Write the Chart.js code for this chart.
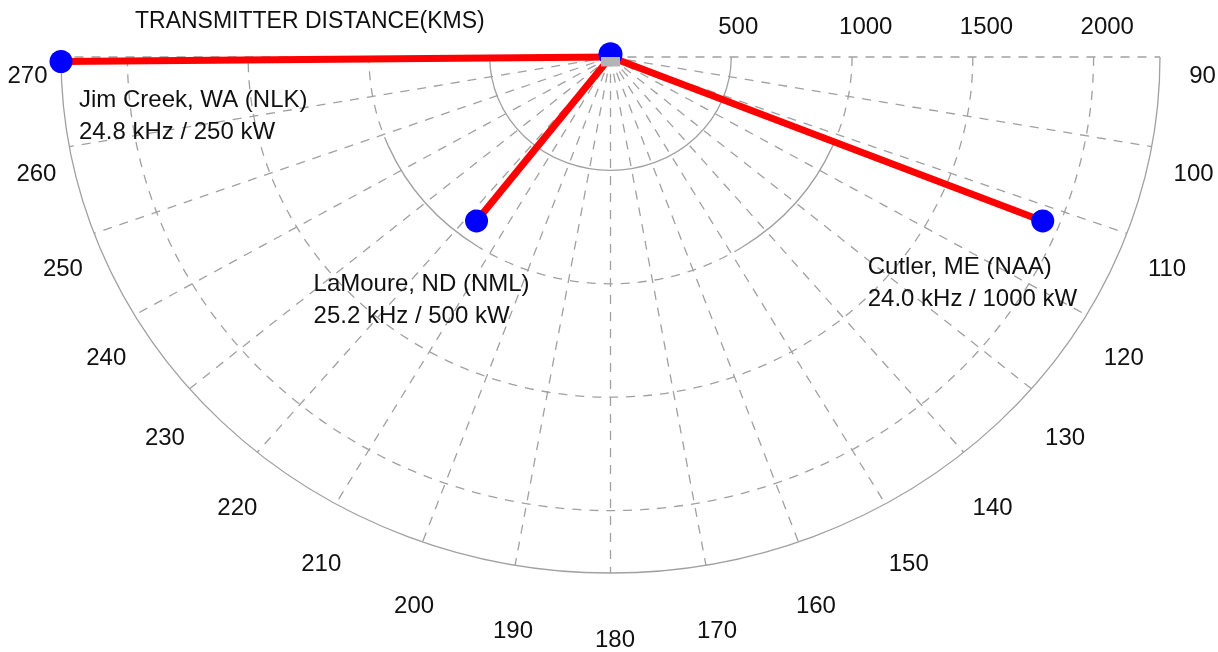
<!DOCTYPE html>
<html><head><meta charset="utf-8">
<script src="https://cdn.jsdelivr.net/npm/chart.js@4.4.1/dist/chart.umd.min.js"></script>
<style>html,body{margin:0;padding:0;background:#fff;overflow:hidden}canvas{display:block}</style>
</head><body>
<canvas id="c" width="1218" height="652"></canvas>
<script>
// ---- data ----
const stations = ['Jim Creek, WA (NLK)', 'LaMoure, ND (NML)', 'Cutler, ME (NAA)'];
const details = ['24.8 kHz / 250 kW', '25.2 kHz / 500 kW', '24.0 kHz / 1000 kW'];
const bearings = [269.5, 217.5, 112.0];      // degrees, clockwise from north
const distances = [2275, 911, 1930];          // km
const ringTicks = [500, 1000, 1500, 2000];    // km
const maxDistance = 2275;                     // km, outer boundary
const angleTicks = [90, 100, 110, 120, 130, 140, 150, 160, 170, 180, 190, 200, 210, 220, 230, 240, 250, 260, 270];
const titleText = 'TRANSMITTER DISTANCE(KMS)';
const centerMarkOffset = 12;                  // km, the centre marker sits slightly above origin

const FONT = '"Liberation Sans", Arial, sans-serif';
const toXY = (b, d) => ({ x: d * Math.sin(b * Math.PI / 180), y: d * Math.cos(b * Math.PI / 180) });

// label offsets relative to each station dot (px)
const labelOffsets = [[18, 39], [-163, 63], [-175, 46]];

const lineDatasets = stations.map((s, i) => ({
  label: s,
  data: [{ x: 0, y: 0 }, toXY(bearings[i], distances[i])],
  showLine: true,
  borderColor: '#ff0000',
  borderWidth: 7,
  borderCapStyle: 'butt',
  pointRadius: [0, 11.5],
  pointBackgroundColor: '#0000ff',
  pointBorderWidth: 0,
  clip: false,
  order: 3 + i
}));

const polarGrid = {
  id: 'polarGrid',
  beforeDatasetsDraw(chart) {
    const { ctx } = chart;
    const xs = chart.scales.x, ys = chart.scales.y;
    const cx = xs.getPixelForValue(0), cy = ys.getPixelForValue(0);
    const kx = (xs.getPixelForValue(maxDistance) - cx) / maxDistance;
    const ky = (ys.getPixelForValue(-maxDistance) - cy) / maxDistance;
    const t = b => (b - 90) * Math.PI / 180;
    ctx.save();
    ctx.strokeStyle = '#a0a0a0';
    ctx.lineWidth = 1.3;
    const arc = (r, b0, b1, dash) => {
      ctx.beginPath();
      ctx.setLineDash(dash);
      ctx.ellipse(cx, cy, r * kx, r * ky, 0, t(b0), t(b1));
      ctx.stroke();
    };
    const DASH = [9, 8];
    angleTicks.forEach(b => {
      ctx.beginPath();
      ctx.setLineDash(DASH);
      ctx.moveTo(cx, cy);
      ctx.lineTo(cx + maxDistance * kx * Math.cos(t(b)), cy + maxDistance * ky * Math.sin(t(b)));
      ctx.stroke();
    });
    arc(ringTicks[0], 90, 270, []);
    arc(ringTicks[1], 90, 113, DASH);
    arc(ringTicks[1], 113, 147, []);
    arc(ringTicks[1], 147, 213, DASH);
    arc(ringTicks[1], 213, 247, []);
    arc(ringTicks[1], 247, 270, DASH);
    arc(ringTicks[2], 90, 270, DASH);
    arc(ringTicks[3], 90, 270, DASH);
    arc(maxDistance, 90, 270, []);
    ctx.restore();
  },
  afterDraw(chart) {
    const { ctx } = chart;
    const xs = chart.scales.x, ys = chart.scales.y;
    const cx = xs.getPixelForValue(0), cy = ys.getPixelForValue(0);
    const rx = xs.getPixelForValue(maxDistance) - cx;
    const ry = ys.getPixelForValue(-maxDistance) - cy;
    const t = b => (b - 90) * Math.PI / 180;
    ctx.save();
    ctx.fillStyle = '#111111';
    ctx.textBaseline = 'middle';
    ctx.font = '23px ' + FONT;
    ctx.textAlign = 'left';
    ctx.fillText(titleText, 135, 22);
    ctx.font = '24px ' + FONT;
    ringTicks.forEach(v => {
      ctx.fillText(String(v), xs.getPixelForValue(v) - 13, 27);
    });
    ctx.textAlign = 'center';
    angleTicks.forEach(b => {
      const x = cx + 4.5 + (rx + 38) * Math.cos(t(b));
      const y = cy + 19 + (ry + 48) * Math.sin(t(b));
      ctx.fillText(String(b), x, y);
    });
    ctx.textAlign = 'left';
    stations.forEach((s, i) => {
      const p = toXY(bearings[i], distances[i]);
      const px = xs.getPixelForValue(p.x) + labelOffsets[i][0];
      const py = ys.getPixelForValue(p.y) + labelOffsets[i][1];
      ctx.fillText(s, px, py);
      ctx.fillText(details[i], px, py + 32);
    });
    ctx.restore();
  }
};

new Chart(document.getElementById('c'), {
  type: 'scatter',
  data: {
    datasets: [
      { label: 'origin', data: [{ x: 0, y: 0 }], pointStyle: 'rect', pointRadius: 13.4,
        pointBackgroundColor: '#b4b4b4', pointBorderWidth: 0, borderWidth: 0, clip: 0, order: 0 },
      { label: 'centre', data: [{ x: 0, y: centerMarkOffset }], pointRadius: 12,
        pointBackgroundColor: '#0000ff', pointBorderWidth: 0, clip: false, order: 1 },
      ...lineDatasets
    ]
  },
  options: {
    responsive: false,
    animation: false,
    devicePixelRatio: 1,
    events: [],
    layout: { padding: { left: 61, right: 58, top: 57, bottom: 79 } },
    scales: {
      x: { type: 'linear', min: -maxDistance, max: maxDistance, display: false },
      y: { type: 'linear', min: -maxDistance, max: 0, display: false }
    },
    plugins: { legend: { display: false }, tooltip: { enabled: false }, title: { display: false } }
  },
  plugins: [polarGrid]
});
</script>
</body></html>
